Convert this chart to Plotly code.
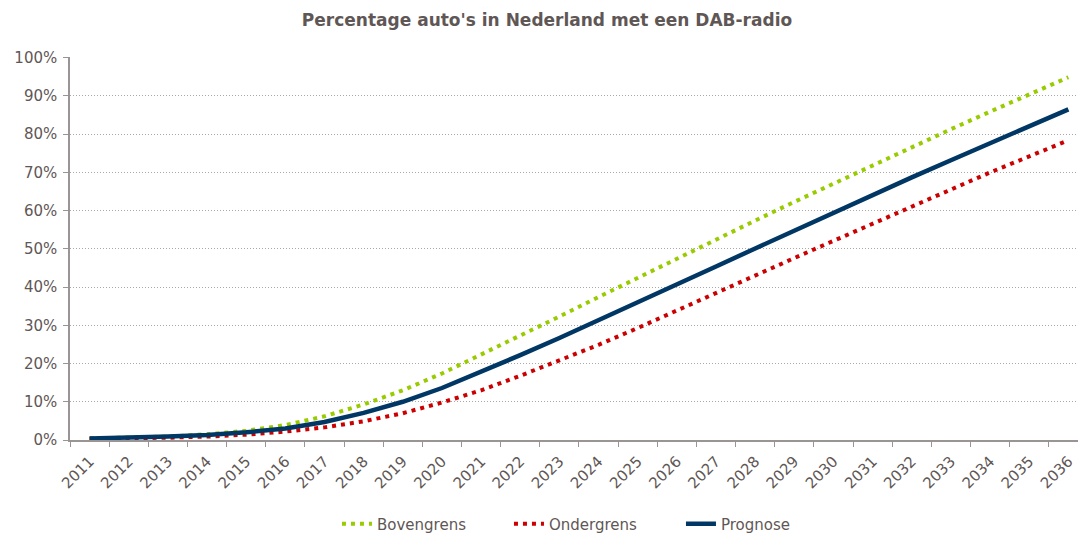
import plotly.graph_objects as go

# data (percent of cars)
years = [str(y) for y in range(2011, 2037)]

bovengrens = [0.4, 0.6, 0.9, 1.5, 2.4, 3.9, 6.2, 9.3, 13.0, 17.4, 22.3, 27.2, 32.3,
              37.4, 42.4, 47.5, 52.6, 57.4, 62.3, 67.1, 71.9, 76.6, 81.3, 85.9, 90.4, 94.9]
ondergrens = [0.3, 0.4, 0.6, 0.9, 1.4, 2.2, 3.3, 4.9, 7.0, 9.8, 13.0, 16.8, 20.9,
              24.9, 29.3, 33.9, 38.6, 43.0, 47.6, 52.1, 56.6, 61.0, 65.5, 70.0, 74.2, 78.4]
prognose = [0.4, 0.6, 0.9, 1.3, 2.0, 3.0, 4.7, 7.1, 10.0, 13.6, 17.8, 22.2, 26.7,
            31.3, 36.1, 40.7, 45.4, 50.1, 54.8, 59.6, 64.2, 68.7, 73.2, 77.7, 82.1, 86.5]

y_ticks = list(range(0, 101, 10))
y_labels = [f"{v}%" for v in y_ticks]

text_col = "#5f5756"
axis_col = "#9a9494"

# page body has an 8px margin, so the figure is a bit smaller than the window
W, H = 1078, 528

fig = go.Figure()

fig.add_trace(go.Scatter(x=years, y=bovengrens, name="Bovengrens", mode="lines",
                         line=dict(color="#99cc00", width=4, dash="4px,5px")))
fig.add_trace(go.Scatter(x=years, y=ondergrens, name="Ondergrens", mode="lines",
                         line=dict(color="#cc0000", width=4, dash="4px,5px")))
fig.add_trace(go.Scatter(x=years, y=prognose, name="Prognose", mode="lines",
                         line=dict(color="#003764", width=4.5)))

fig.update_layout(
    width=W, height=H,
    margin=dict(l=62, r=0, t=49, b=96),
    paper_bgcolor="white", plot_bgcolor="white",
    font=dict(family="DejaVu Sans, Verdana, sans-serif", size=15, color=text_col),
    title=dict(text="<b>Percentage auto's in Nederland met een DAB-radio</b>",
               x=0.5, xanchor="center", y=1 - 12 / H, yanchor="middle",
               font=dict(size=17, color=text_col)),
    showlegend=True,
    legend=dict(orientation="h", x=0.5 + 18 / W, xanchor="center", yref="container",
                y=1 - 516 / H, yanchor="middle", font=dict(size=15, color=text_col),
                entrywidth=127, traceorder="normal"),
)

fig.update_xaxes(type="category", range=[-0.5, 25.45], tickangle=-45,
                 showline=True, linecolor=axis_col, linewidth=1.5,
                 ticks="outside", tickson="boundaries", ticklen=5,
                 tickcolor=axis_col, showgrid=False, ticklabelstandoff=5,
                 tickfont=dict(size=15, color=text_col))
fig.update_yaxes(range=[0, 100.2], tickvals=y_ticks, ticktext=y_labels,
                 showline=True, linecolor=axis_col, linewidth=1.5,
                 ticks="outside", ticklen=5, tickcolor=axis_col, ticklabelstandoff=3,
                 showgrid=True, gridcolor="#a8a8a8", griddash="1px,2px", gridwidth=1,
                 zeroline=False, tickfont=dict(size=15, color=text_col))

fig.write_html("out.html")
